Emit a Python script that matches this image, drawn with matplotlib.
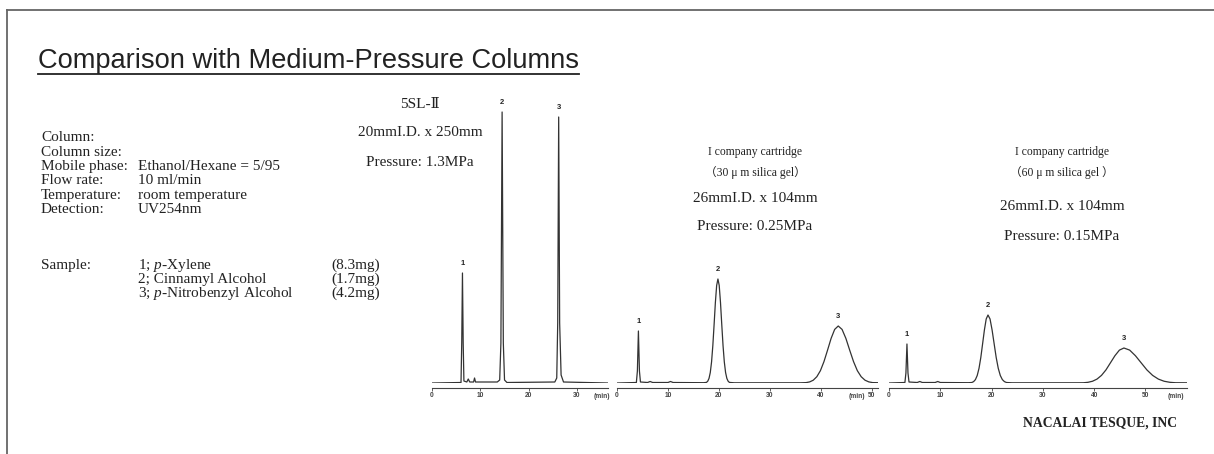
import matplotlib
matplotlib.use('Agg')
import matplotlib.pyplot as plt
from matplotlib.lines import Line2D

plt.rcParams['mathtext.fontset'] = 'custom'
plt.rcParams['mathtext.rm'] = 'Liberation Serif'
plt.rcParams['mathtext.it'] = 'Liberation Serif:italic'

W, H = 1214, 454

# conditions block
cond_labels = ['Column:', 'Column size:', 'Mobile phase:', 'Flow rate:', 'Temperature:', 'Detection:']
cond_values = ['', '', 'Ethanol/Hexane = 5/95', '10 ml/min', 'room temperature', 'UV254nm']
sample_names = ['1; $p$-Xylene', '2; Cinnamyl Alcohol', '3; $p$-Nitrobenzyl Alcohol']
sample_amounts = ['(8.3mg)', '(1.7mg)', '(4.2mg)']

# column captions per panel
captions_1 = ['5SL-\u2161', '20mmI.D. x 250mm', 'Pressure: 1.3MPa']
captions_2 = ['I company cartridge', '\uff0830 \u03bc m silica gel\uff09', '26mmI.D. x 104mm', 'Pressure: 0.25MPa']
captions_3 = ['I company cartridge', '\uff0860 \u03bc m silica gel \uff09', '26mmI.D. x 104mm', 'Pressure: 0.15MPa']

# traced chromatograms: time (min), signal (arbitrary units)
t_5sl = [0, 6.0, 6.15, 6.3, 6.45, 6.6, 7.2, 7.5, 7.8, 8.6, 8.8, 9.0, 13.5, 14.0, 14.25,
         14.5, 14.75, 15.0, 15.5, 25.4, 25.8, 26.0, 26.2, 26.4, 26.7, 27.2, 36.4]
s_5sl = [0, 0.5, 40, 110, 40, 2, 1, 4, 1, 1, 5, 1, 1, 3, 40,
         271, 40, 3, 0.5, 1, 5, 60, 266, 60, 8, 1, 0]

t_30um = [0, 3.8, 4.0, 4.2, 4.4, 4.6, 6.0, 6.5, 7.0, 10.0, 10.5, 11.0, 17.0,
          17.55, 17.8, 18.05, 18.3, 18.55, 18.8, 19.05, 19.3, 19.55, 19.8,
          20.05, 20.3, 20.55, 20.8, 21.05, 21.3, 21.55, 21.8, 22.05, 23.0,
          36.0, 37.1, 37.8, 38.5, 39.2, 39.9, 40.6, 41.3, 42.0, 42.7, 43.4,
          44.15, 44.9, 45.65, 46.4, 47.15, 47.9, 48.65, 49.4, 50.15, 51.2]
s_30um = [0, 0.5, 12, 52, 12, 1, 0.5, 1.5, 0.5, 0.5, 1.5, 0.5, 0.3,
          0.6, 1.8, 4.6, 10.5, 21.1, 37.5, 58.6, 80.6, 97.6, 104,
          97.6, 80.6, 58.6, 37.5, 21.1, 10.5, 4.6, 1.8, 0.6, 0.2,
          0.2, 0.4, 1.1, 2.8, 6.3, 12.3, 21.4, 32.8, 44.6, 53.6, 57,
          53.6, 44.6, 32.8, 21.4, 12.3, 6.3, 2.8, 1.1, 0.4, 0.3]

t_60um = [0, 3.1, 3.3, 3.5, 3.7, 3.9, 5.5, 6.0, 6.5, 9.0, 9.5, 10.0, 15.5,
          16.15, 16.5, 16.85, 17.2, 17.55, 17.9, 18.25, 18.6, 18.95, 19.3,
          19.7, 20.1, 20.5, 20.9, 21.3, 21.7, 22.1, 22.5, 22.9, 24.0,
          37.0, 37.925, 38.8, 39.675, 40.55, 41.425, 42.3, 43.175, 44.05, 44.925, 45.8,
          46.92, 48.04, 49.16, 50.28, 51.4, 52.52, 53.64, 54.76, 55.88, 58.1]
s_60um = [0, 0.5, 10, 39, 10, 1, 0.5, 1.5, 0.5, 0.5, 1.5, 0.5, 0.3,
          0.5, 1.4, 3.4, 7.5, 14.7, 25.5, 39.2, 53, 64, 68,
          64, 53, 39.2, 25.5, 14.7, 7.5, 3.4, 1.4, 0.5, 0.2,
          0.2, 0.25, 0.7, 1.75, 3.9, 7.6, 13.1, 20.2, 27.3, 32.9, 35,
          32.9, 27.3, 20.2, 13.1, 7.6, 3.9, 1.75, 0.7, 0.25, 0.2]

peak_times_5sl = [6.3, 14.5, 26.2]
peak_times_30um = [4.2, 19.8, 43.4]
peak_times_60um = [3.5, 19.3, 45.8]
peak_ids = ['1', '2', '3']

fig = plt.figure(figsize=(W / 100, H / 100), dpi=100)


def fx(px):
    return px / W


def fy(py):
    return 1 - py / H


# frame (only left and top edges visible)
fig.add_artist(Line2D([fx(7), fx(7)], [fy(10), 0], color='#666666', lw=1.3))
fig.add_artist(Line2D([fx(7), 1], [fy(10), fy(10)], color='#666666', lw=1.3))

# title with underline
title = fig.text(fx(38), fy(61), 'Comparison with Medium-Pressure Columns', family='Liberation Sans',
                 fontsize=19.6, color='#222222', va='center', ha='left')
fig.canvas.draw()
bb = title.get_window_extent()
fig.add_artist(Line2D([fx(bb.x0), fx(bb.x1)], [fy(74), fy(74)], color='#222222', lw=1.3))

serif = ['Liberation Serif', 'DejaVu Serif', 'Noto Sans CJK JP', 'DejaVu Sans']
txt = '#222222'

for i, (lab, val) in enumerate(zip(cond_labels, cond_values)):
    y = 138 + i * 14.3
    fig.text(fx(41), fy(y), lab, family=serif, fontsize=11, color=txt, va='center')
    fig.text(fx(138), fy(y), val, family=serif, fontsize=11, color=txt, va='center')

fig.text(fx(41), fy(265), 'Sample:', family=serif, fontsize=11, color=txt, va='center')
for i, (name, amt) in enumerate(zip(sample_names, sample_amounts)):
    y = 265 + i * 14.3
    fig.text(fx(138), fy(y), name, family=serif, fontsize=11, color=txt, va='center')
    fig.text(fx(331), fy(y), amt, family=serif, fontsize=11, color=txt, va='center')

# captions
for s, y in zip(captions_1, [105, 133, 162]):
    fig.text(fx(420), fy(y), s, family=serif, fontsize=11, color=txt, ha='center', va='center')
for s, y, fs in zip(captions_2, [152, 173, 198, 227], [8.4, 8.4, 11, 11]):
    fig.text(fx(755), fy(y), s, family=serif, fontsize=fs, color=txt, ha='center', va='center')
for s, y, fs in zip(captions_3, [152, 173, 207, 237], [8.4, 8.4, 11, 11]):
    fig.text(fx(1062), fy(y), s, family=serif, fontsize=fs, color=txt, ha='center', va='center')

fig.text(fx(1177), fy(423), 'NACALAI TESQUE, INC', family='Liberation Serif', fontsize=9.8,
         fontweight='bold', color=txt, ha='right', va='center')


def chromatogram(x0, x1, tmax, t, s, peaks, ticks, min_pos):
    ax = fig.add_axes([fx(x0), fy(383), fx(x1) - fx(x0), fy(100) - fy(383)])
    ax.plot(t, s, color='#333333', lw=0.9)
    ax.set_xlim(0, tmax)
    ax.set_ylim(0, 283)
    for pt, pid in zip(peaks, peak_ids):
        idx = t.index(pt)
        ax.text(pt, s[idx] + 6, pid, family='Liberation Sans', fontsize=5.5, fontweight='bold',
                color=txt, ha='center', va='bottom')
    for side in ['top', 'right', 'left']:
        ax.spines[side].set_visible(False)
    ax.spines['bottom'].set_position(('outward', 3.6))
    ax.spines['bottom'].set_color('#444444')
    ax.spines['bottom'].set_linewidth(0.8)
    ax.set_yticks([])
    ax.set_xticks(ticks)
    ax.tick_params(axis='x', length=2, width=0.6, pad=1, labelsize=4.8, colors='#444444')
    for lb in ax.get_xticklabels():
        lb.set_fontweight('bold')
        lb.set_family('Liberation Sans')
    ax.text(min_pos, -0.035, '(min)', transform=ax.get_xaxis_transform(), family='Liberation Sans',
            fontsize=4.8, fontweight='bold', color='#444444', ha='center', va='top')
    ax.patch.set_alpha(0)
    return ax


chromatogram(432, 608, 36.4, t_5sl, s_5sl, peak_times_5sl, [0, 10, 20, 30], 35.2)
chromatogram(617, 878, 51.2, t_30um, s_30um, peak_times_30um, [0, 10, 20, 30, 40, 50], 47.0)
chromatogram(889, 1187, 58.1, t_60um, s_60um, peak_times_60um, [0, 10, 20, 30, 40, 50], 56.0)

fig.savefig('out.png', dpi=100)
